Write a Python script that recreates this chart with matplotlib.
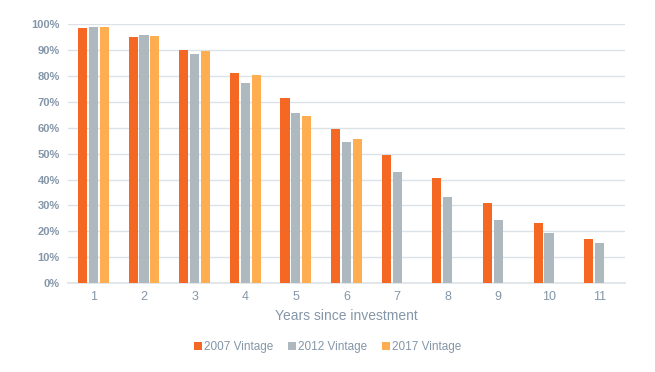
import numpy as np
import matplotlib.pyplot as plt
from matplotlib.ticker import FuncFormatter

plt.rcParams['font.family'] = ['Liberation Sans', 'DejaVu Sans']

years = [1, 2, 3, 4, 5, 6, 7, 8, 9, 10, 11]
v2007 = [98.6, 95.1, 90.1, 81.3, 71.5, 59.6, 49.5, 40.5, 31.0, 23.3, 17.1]
v2012 = [98.9, 95.9, 88.5, 77.3, 65.7, 54.6, 43.0, 33.3, 24.4, 19.4, 15.5]
v2017 = [99.0, 95.5, 89.7, 80.5, 64.6, 55.7]
labels = ['2007 Vintage', '2012 Vintage', '2017 Vintage']

c_orange = '#F46824'
c_gray = '#ADB8BF'
c_light = '#FFAD51'
txt = '#8496A8'
grid = '#DCE3E8'

fig = plt.figure(figsize=(6.55, 3.72), dpi=100)
ax = fig.add_axes([0.104, 0.239, 0.85, 0.696])

x = np.array(years)
w = 0.18
off = 0.215
ax.bar(x - off, v2007, w, color=c_orange, label=labels[0], zorder=3)
ax.bar(x, v2012, w, color=c_gray, label=labels[1], zorder=3)
ax.bar(x[:len(v2017)] + off, v2017, w, color=c_light, label=labels[2], zorder=3)

ax.set_xlim(0.5, 11.5)
ax.set_ylim(0, 100)
ax.set_yticks(np.arange(0, 101, 10))
ax.yaxis.set_major_formatter(FuncFormatter(lambda v, p: '%d%%' % v))
ax.set_xticks(years)
ax.grid(axis='y', color=grid, linewidth=1, zorder=0)
for s in ['top', 'right', 'left']:
    ax.spines[s].set_visible(False)
ax.spines['bottom'].set_color(grid)
ax.spines['bottom'].set_linewidth(1.2)
ax.tick_params(length=0, colors=txt)
ax.tick_params(axis='x', pad=6, labelsize=9)
ax.tick_params(axis='y', pad=6, labelsize=8)
for lab in ax.get_yticklabels():
    lab.set_fontweight('bold')

ax.set_xlabel('Years since investment', color=txt, fontsize=10, labelpad=4)

fig.legend(loc='center', bbox_to_anchor=(0.5, 0.067), ncol=3, frameon=False,
           handlelength=0.7, handleheight=0.7, handletextpad=0.2,
           columnspacing=1.2, prop={'size': 8.5},
           labelcolor=txt)

fig.savefig('out.png', dpi=100)
